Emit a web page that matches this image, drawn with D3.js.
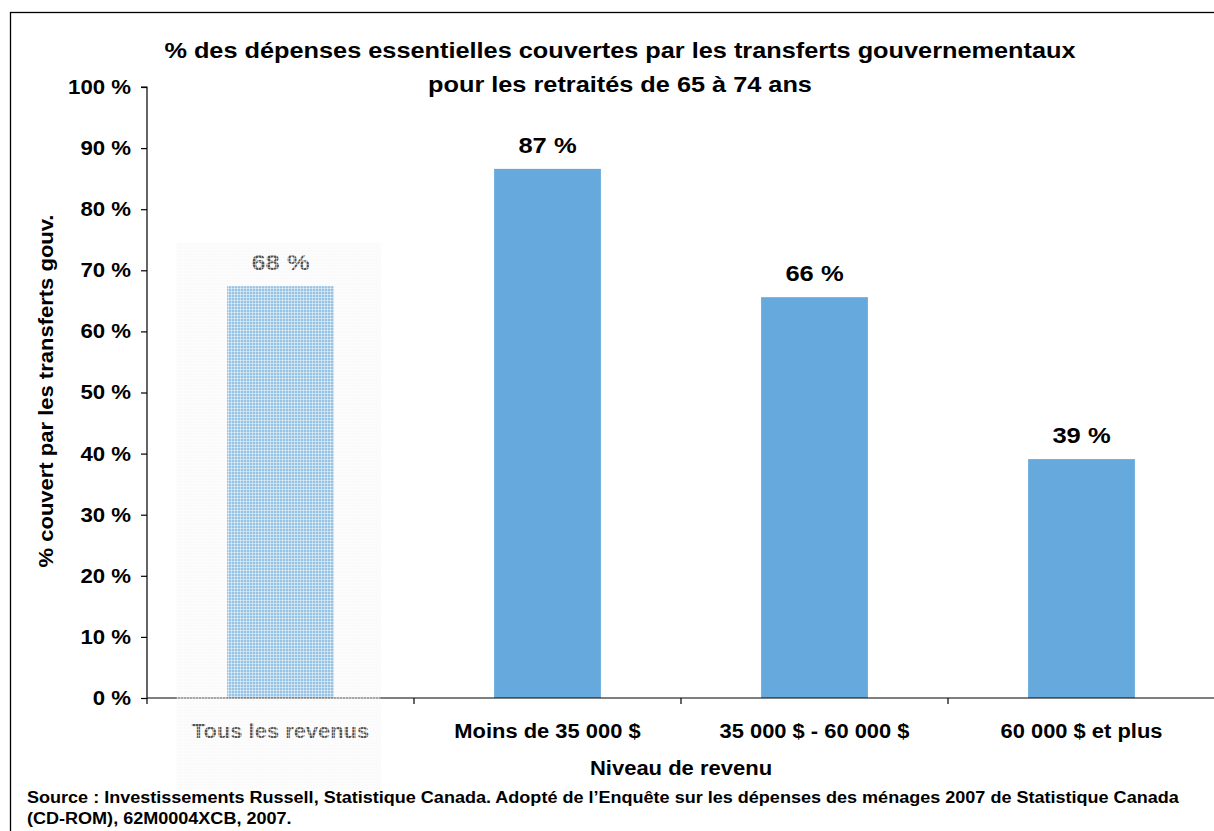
<!DOCTYPE html>
<html><head><meta charset="utf-8">
<script src="https://cdn.jsdelivr.net/npm/d3@7"></script>
<style>
body{margin:0;background:#fff;}
svg{display:block;font-family:"Liberation Sans",Arial,sans-serif;font-weight:bold;}
</style></head>
<body>
<svg id="c" width="1214" height="831"></svg>
<script>
const categories = ["Tous les revenus", "Moins de 35 000 $", "35 000 $ - 60 000 $", "60 000 $ et plus"];
const values = [67.4, 86.6, 65.6, 39.1];
const valueLabels = ["68 %", "87 %", "66 %", "39 %"];
const yTicks = [0, 10, 20, 30, 40, 50, 60, 70, 80, 90, 100];
const titleLines = ["% des dépenses essentielles couvertes par les transferts gouvernementaux", "pour les retraités de 65 à 74 ans"];
const yTitle = "% couvert par les transferts gouv.";
const xTitle = "Niveau de revenu";
const sourceLines = ["Source : Investissements Russell, Statistique Canada. Adopté de l’Enquête sur les dépenses des ménages 2007 de Statistique Canada", "(CD-ROM), 62M0004XCB, 2007."];

const svg = d3.select("#c");
const pLeft = 147, pTop = 87, pBottom = 698, step = 267;
const x = d3.scaleBand().domain(categories).range([pLeft, pLeft + step * categories.length]).padding(0);
const y = d3.scaleLinear().domain([0, 100]).range([pBottom, pTop]);
function stretch(k) {
  return sel => sel.each(function () {
    const L = this.getComputedTextLength();
    d3.select(this).attr("textLength", L * k).attr("lengthAdjust", "spacingAndGlyphs");
  });
}

// outer frame
svg.append("rect").attr("x", 10.5).attr("y", 12.5).attr("width", 1300).attr("height", 900)
  .attr("fill", "none").attr("stroke", "#000").attr("stroke-width", 1.3);

// title
svg.append("g").selectAll("text").data(titleLines).join("text")
  .attr("x", 620).attr("y", (d, i) => 58 + i * 34).attr("text-anchor", "middle")
  .attr("font-size", 22).text(d => d).call(stretch(1.15));

// bars
const bw = x.bandwidth() * 0.4;
svg.append("g").selectAll("rect").data(values).join("rect")
  .attr("x", (d, i) => x(categories[i]) + x.bandwidth() / 2 - bw / 2)
  .attr("y", d => y(d)).attr("width", bw).attr("height", d => pBottom - y(d))
  .attr("fill", "#66aadd");

// value labels
svg.append("g").selectAll("text").data(values).join("text")
  .attr("x", (d, i) => x(categories[i]) + x.bandwidth() / 2)
  .attr("y", d => y(d) - 16).attr("text-anchor", "middle").attr("font-size", 22)
  .text((d, i) => valueLabels[i]).call(stretch(1.16));

// y axis
const yAxis = d3.axisLeft(y).tickValues(yTicks).tickFormat(d => d + " %").tickSize(6).tickPadding(10);
const gy = svg.append("g").attr("transform", `translate(${pLeft},0)`).call(yAxis);
gy.select(".domain").attr("stroke", "#000").attr("stroke-width", 1.2).attr("d", `M-6,${pTop}H0V${pBottom}`);
gy.selectAll(".tick line").attr("stroke", "#000").attr("stroke-width", 1.2);
gy.selectAll(".tick text").attr("font-size", 20).attr("font-family", "Liberation Sans, Arial, sans-serif")
  .attr("font-weight", "bold").attr("fill", "#000").call(stretch(1.11));

// x axis
const gx = svg.append("g").attr("transform", `translate(0,${pBottom})`);
gx.append("line").attr("x1", pLeft).attr("x2", 1214).attr("y1", 0).attr("y2", 0)
  .attr("stroke", "#000").attr("stroke-width", 1.2);
gx.selectAll("line.t").data(categories).join("line").attr("class", "t")
  .attr("x1", d => x(d)).attr("x2", d => x(d)).attr("y1", 0).attr("y2", 6)
  .attr("stroke", "#000").attr("stroke-width", 1.2);
gx.selectAll("text").data(categories).join("text")
  .attr("x", d => x(d) + x.bandwidth() / 2).attr("y", 40).attr("text-anchor", "middle")
  .attr("font-size", 20).text(d => d).call(stretch(1.095));

// axis titles
svg.append("text").attr("transform", "translate(53,391) rotate(-90)").attr("text-anchor", "middle")
  .attr("font-size", 20).text(yTitle).call(stretch(1.1));
svg.append("text").attr("x", 681).attr("y", 775).attr("text-anchor", "middle")
  .attr("font-size", 20).text(xTitle).call(stretch(1.1));

// source
svg.append("g").selectAll("text").data(sourceLines).join("text")
  .attr("x", 27).attr("y", (d, i) => 803 + i * 21).attr("font-size", 16).text(d => d).call(stretch(1.127));

// highlight overlay over first category
const defs = svg.append("defs");
const pat = defs.append("pattern").attr("id", "grid").attr("patternUnits", "userSpaceOnUse")
  .attr("width", 3).attr("height", 3);
pat.append("rect").attr("width", 3).attr("height", 3).attr("fill", "rgba(240,240,240,0.35)");
pat.append("rect").attr("width", 3).attr("height", 1).attr("fill", "rgba(255,255,255,0.45)");
pat.append("rect").attr("width", 1).attr("height", 3).attr("fill", "rgba(255,255,255,0.45)");
const c0 = x(categories[0]) + x.bandwidth() / 2;
svg.append("rect").attr("x", c0 - 104).attr("y", y(74.5)).attr("width", 204).attr("height", 790 - y(74.5))
  .attr("fill", "url(#grid)");
</script>
</body></html>
